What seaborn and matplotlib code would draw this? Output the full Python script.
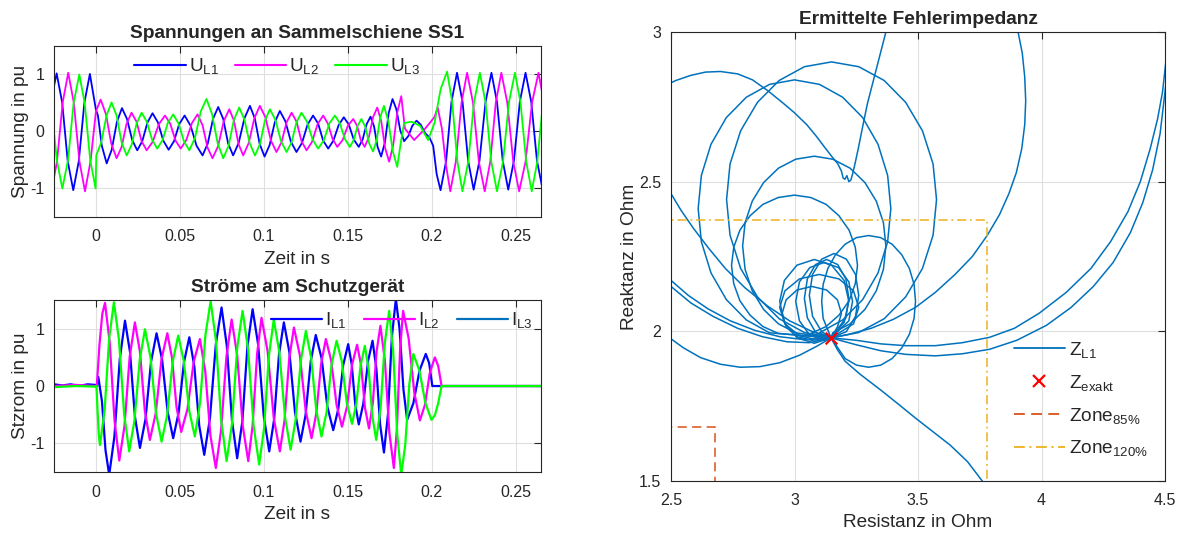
import numpy as np
import pandas as pd
import matplotlib
matplotlib.use("Agg")
import matplotlib.pyplot as plt
from matplotlib.lines import Line2D
import seaborn as sns

# ---------------- Spannungen an SS1: (Zeit in ms, Wert in pu) ----------------
u_l1 = [(-26.7, 0.55), (-23.4, 1.02), (-20.1, 0.51), (-16.8, -0.52), (-13.5, -1.03), (-10.2, -0.52),
        (-6.9, 0.50), (-3.6, 1.01), (0.0, 0.38), (1.2, 0.28), (3.5, -0.25), (6.4, -0.56), (9.4, -0.32),
        (12.5, 0.17), (15.5, 0.41), (18.5, 0.22), (21.6, -0.15), (24.6, -0.33), (27.6, -0.17),
        (30.7, 0.16), (33.7, 0.32), (36.9, 0.16), (40.1, -0.16), (43.3, -0.32), (46.5, -0.17),
        (49.6, 0.13), (52.8, 0.28), (56.4, 0.10), (59.9, -0.25), (63.5, -0.42), (66.6, -0.21),
        (69.7, 0.22), (72.8, 0.43), (75.8, 0.22), (78.7, -0.21), (81.7, -0.42), (85.0, -0.20),
        (88.4, 0.23), (91.7, 0.45), (94.6, 0.23), (97.5, -0.22), (100.4, -0.44), (103.4, -0.24),
        (106.5, 0.16), (109.5, 0.36), (112.8, 0.18), (116.1, -0.18), (119.4, -0.36), (122.7, -0.20),
        (126.0, 0.12), (129.3, 0.28), (132.3, 0.14), (135.3, -0.16), (138.3, -0.30), (141.4, -0.16),
        (144.5, 0.11), (147.6, 0.25), (150.6, 0.12), (153.5, -0.14), (156.5, -0.27), (158.8, -0.14),
        (161.2, 0.13), (163.5, 0.26), (165.6, 0.09), (167.7, -0.27), (169.8, -0.44), (172.1, -0.19),
        (174.3, 0.32), (176.6, 0.57), (178.9, 0.39), (181.2, 0.02), (183.5, -0.17), (186.0, -0.08),
        (188.4, 0.10), (190.9, 0.19), (193.4, 0.12), (196.0, -0.03), (198.5, -0.10), (200.8, -0.25),
        (202.9, -0.75), (205.2, -1.03), (208.5, -0.52), (211.7, 0.52), (215.0, 1.03), (218.3, 0.52),
        (221.6, -0.51), (224.9, -1.02), (228.4, -0.51), (232.0, 0.52), (235.5, 1.03), (238.8, 0.52),
        (242.2, -0.51), (245.5, -1.02), (248.9, -0.51), (252.4, 0.52), (255.8, 1.03), (259.2, 0.52),
        (262.6, -0.51), (266.0, -1.02)]

u_l2 = [(-26.5, -1.05), (-23.2, -0.53), (-19.8, 0.51), (-16.5, 1.03), (-13.2, 0.51), (-9.8, -0.53),
        (-6.5, -1.05), (-3.2, -0.52), (0.0, 0.35), (2.8, 0.56), (6.0, 0.30), (9.1, -0.21),
        (12.3, -0.47), (15.3, -0.27), (18.2, 0.13), (21.2, 0.33), (24.2, 0.17), (27.2, -0.17),
        (30.2, -0.33), (33.8, -0.18), (37.5, 0.13), (41.1, 0.28), (44.2, 0.14), (47.4, -0.16),
        (50.5, -0.30), (53.8, -0.15), (57.2, 0.15), (60.5, 0.30), (63.5, 0.11), (66.4, -0.28),
        (69.4, -0.47), (72.7, -0.26), (76.1, 0.18), (79.4, 0.39), (82.2, 0.19), (84.9, -0.22),
        (87.7, -0.42), (91.0, -0.20), (94.3, 0.23), (97.6, 0.45), (100.9, 0.25), (104.2, -0.16),
        (107.5, -0.36), (110.5, -0.19), (113.5, 0.16), (116.5, 0.33), (119.5, 0.17), (122.4, -0.17),
        (125.4, -0.33), (128.7, -0.18), (132.0, 0.13), (135.3, 0.28), (138.1, 0.14), (140.9, -0.13),
        (143.7, -0.27), (146.9, -0.15), (150.0, 0.10), (153.2, 0.22), (155.5, 0.10), (157.7, -0.15),
        (160.0, -0.27), (162.5, -0.10), (165.0, 0.25), (167.5, 0.42), (169.9, 0.18), (172.2, -0.29),
        (174.6, -0.53), (177.0, -0.24), (179.4, 0.33), (181.8, 0.62), (184.0, 0.05), (189.5, -0.15),
        (196.0, 0.05), (201.5, 0.25), (203.5, 0.42), (206.0, 0.05), (208.5, -0.60), (211.0, -1.05),
        (214.3, -0.53), (217.7, 0.51), (221.0, 1.03), (224.5, 0.51), (228.0, -0.53), (231.5, -1.05),
        (234.8, -0.53), (238.1, 0.51), (241.4, 1.03), (244.9, 0.51), (248.5, -0.53), (252.0, -1.05),
        (255.8, -0.53), (259.7, 0.51), (263.5, 1.03), (266.8, 0.51)]

u_l3 = [(-26.7, 0.50), (-23.3, -0.50), (-20.0, -1.00), (-16.6, -0.50), (-13.3, 0.50), (-9.9, 1.00),
        (-6.7, 0.50), (-3.4, -0.50), (-0.2, -1.00), (0.2, -0.42), (3.2, -0.19), (6.3, 0.28),
        (9.3, 0.51), (12.3, 0.28), (15.3, -0.19), (18.3, -0.42), (21.3, -0.23), (24.2, 0.14),
        (27.2, 0.33), (30.3, 0.17), (33.4, -0.14), (36.5, -0.30), (39.7, -0.15), (42.8, 0.15),
        (46.0, 0.30), (49.2, 0.14), (52.4, -0.17), (55.6, -0.33), (59.0, -0.11), (62.4, 0.35),
        (65.8, 0.57), (69.1, 0.31), (72.5, -0.21), (75.8, -0.47), (79.0, -0.25), (82.1, 0.20),
        (85.3, 0.42), (88.4, 0.21), (91.6, -0.21), (94.7, -0.42), (97.7, -0.22), (100.6, 0.19),
        (103.6, 0.39), (106.9, 0.20), (110.2, -0.17), (113.5, -0.36), (116.5, -0.19), (119.4, 0.16),
        (122.4, 0.33), (125.7, 0.17), (129.0, -0.14), (132.3, -0.30), (135.6, -0.16), (139.0, 0.14),
        (142.3, 0.28), (145.3, 0.14), (148.2, -0.13), (151.2, -0.27), (153.5, -0.15), (155.8, 0.10),
        (158.1, 0.22), (160.4, 0.08), (162.7, -0.21), (165.0, -0.35), (167.2, -0.15), (169.3, 0.25),
        (171.5, 0.45), (174.1, 0.18), (176.8, -0.35), (179.4, -0.62), (181.5, -0.20), (183.5, 0.15),
        (188.0, 0.17), (193.0, 0.10), (197.8, -0.15), (201.6, 0.15), (205.3, 0.75), (209.1, 1.05),
        (212.1, 0.52), (215.2, -0.52), (218.2, -1.05), (221.7, -0.53), (225.1, 0.51), (228.6, 1.03),
        (232.0, 0.51), (235.4, -0.53), (238.8, -1.05), (242.4, -0.53), (245.9, 0.51), (249.5, 1.03),
        (252.8, 0.51), (256.2, -0.53), (259.5, -1.05), (262.8, -0.53), (266.2, 0.51)]

# ---------------- Stroeme am Schutzgeraet: (Zeit in ms, Wert in pu) ----------------
i_l1 = [(-25, 0.03), (-20, 0.01), (-15, 0.03), (-10, 0.00), (-5, 0.03), (-0.5, 0.02), (0.5, 0.00),
        (1.4, 0.16), (3.6, -0.27), (5.7, -1.12), (7.9, -1.55), (11.0, -0.88), (14.2, 0.47),
        (17.3, 1.14), (20.3, 0.59), (23.2, -0.53), (26.2, -1.08), (29.5, -0.58), (32.8, 0.42),
        (36.1, 0.92), (39.4, 0.46), (42.7, -0.45), (46.0, -0.91), (49.2, -0.47), (52.4, 0.41),
        (55.6, 0.85), (58.6, 0.34), (61.5, -0.69), (64.5, -1.20), (67.9, -0.56), (71.4, 0.73),
        (74.8, 1.37), (77.9, 0.71), (81.0, -0.60), (84.1, -1.26), (87.2, -0.61), (90.2, 0.69),
        (93.3, 1.34), (96.6, 0.72), (99.9, -0.52), (103.2, -1.14), (106.1, -0.58), (109.0, 0.55),
        (111.9, 1.11), (115.2, 0.59), (118.5, -0.45), (121.8, -0.97), (124.8, -0.51), (127.9, 0.43),
        (130.9, 0.89), (134.4, 0.48), (137.8, -0.36), (141.3, -0.77), (144.3, -0.40), (147.2, 0.36),
        (150.2, 0.73), (152.3, 0.38), (154.4, -0.32), (156.5, -0.67), (159.2, -0.31), (162.0, 0.43),
        (164.7, 0.79), (167.0, 0.30), (169.2, -0.67), (171.5, -1.16), (173.9, -0.49), (176.2, 0.85),
        (178.6, 1.52), (180.8, 0.99), (183.1, -0.06), (185.3, -0.59), (189.0, -0.30), (192.7, 0.27),
        (196.4, 0.56), (198.4, 0.40), (200.3, 0.00), (265.0, 0.00)]

i_l2 = [(-25, 0.00), (-12, 0.02), (-0.5, 0.00), (0.5, 0.00), (2.1, 0.72), (3.8, 1.26), (5.4, 1.45),
        (8.2, 0.76), (11.1, -0.61), (13.9, -1.30), (17.0, -0.70), (20.1, 0.51), (23.2, 1.11),
        (26.2, 0.60), (29.1, -0.43), (32.1, -0.94), (35.6, -0.48), (39.0, 0.46), (42.5, 0.92),
        (45.3, 0.49), (48.0, -0.37), (50.8, -0.80), (54.5, -0.40), (58.2, 0.42), (61.9, 0.82),
        (65.1, 0.26), (68.2, -0.87), (71.4, -1.43), (74.5, -0.78), (77.7, 0.51), (80.8, 1.16),
        (84.1, 0.54), (87.4, -0.69), (90.7, -1.31), (93.3, -0.69), (96.0, 0.57), (98.6, 1.19),
        (102.2, 0.61), (105.9, -0.56), (109.5, -1.14), (112.3, -0.60), (115.1, 0.48), (117.9, 1.02),
        (121.4, 0.54), (124.9, -0.43), (128.4, -0.91), (131.2, -0.48), (134.1, 0.39), (136.9, 0.82),
        (140.1, 0.44), (143.3, -0.33), (146.5, -0.71), (149.5, -0.36), (152.5, 0.37), (155.5, 0.72),
        (157.9, 0.36), (160.2, -0.38), (162.6, -0.74), (164.9, -0.29), (167.1, 0.60), (169.4, 1.05),
        (172.1, 0.43), (174.7, -0.81), (177.4, -1.43), (179.2, -0.75), (181.1, 0.63), (182.9, 1.31),
        (186.2, 0.83), (189.6, -0.12), (192.9, -0.60), (195.9, -0.33), (198.8, 0.23), (201.8, 0.50),
        (203.8, 0.35), (205.8, 0.00), (265.0, 0.00)]

i_l3 = [(-25, -0.02), (-12, 0.00), (-0.5, -0.01), (0.3, 0.00), (1.0, -0.45), (1.7, -0.85), (2.4, -1.03),
        (5.2, -0.41), (7.9, 0.84), (10.7, 1.46), (13.7, 0.81), (16.8, -0.49), (19.8, -1.14),
        (22.9, -0.61), (26.1, 0.46), (29.2, 0.99), (32.5, 0.50), (35.8, -0.48), (39.1, -0.97),
        (42.4, -0.51), (45.7, 0.42), (49.0, 0.88), (52.3, 0.44), (55.6, -0.44), (58.9, -0.88),
        (62.0, -0.29), (65.2, 0.89), (68.3, 1.48), (71.5, 0.78), (74.6, -0.61), (77.8, -1.31),
        (81.0, -0.66), (84.1, 0.66), (87.3, 1.31), (90.6, 0.64), (93.9, -0.70), (97.2, -1.37),
        (100.1, -0.74), (103.0, 0.53), (105.9, 1.16), (109.2, 0.59), (112.6, -0.54), (115.9, -1.11),
        (118.9, -0.59), (122.0, 0.44), (125.0, 0.96), (128.1, 0.50), (131.2, -0.42), (134.3, -0.88),
        (137.3, -0.46), (140.3, 0.37), (143.3, 0.79), (146.4, 0.43), (149.4, -0.30), (152.5, -0.66),
        (155.0, -0.32), (157.6, 0.36), (160.1, 0.70), (162.4, 0.29), (164.6, -0.53), (166.9, -0.94),
        (169.5, -0.38), (172.0, 0.75), (174.6, 1.31), (177.0, 0.60), (179.4, -0.84), (181.8, -1.55),
        (184.2, -1.02), (186.6, 0.03), (189.0, 0.56), (192.6, 0.27), (196.2, -0.30), (199.8, -0.59),
        (201.8, -0.51), (203.8, -0.30), (205.8, 0.00), (265.0, 0.00)]

# ---------------- Impedanz-Ortskurve: (R, X) in Ohm ----------------
z_exakt = (3.148, 1.978)
C = z_exakt

exit_bottom = [C, (3.175, 1.937), (3.205, 1.90), (3.265, 1.857), (3.355, 1.80), (3.42, 1.757),
               (3.49, 1.71), (3.56, 1.665), (3.63, 1.62), (3.70, 1.565), (3.76, 1.50), (3.80, 1.46)]
arc_right_1 = [C, (3.25, 1.955), (3.35, 1.935), (3.45, 1.923), (3.57, 1.918), (3.68, 1.925),
               (3.79, 1.94), (3.90, 1.97), (4.02, 2.02), (4.12, 2.08), (4.21, 2.15), (4.29, 2.23),
               (4.36, 2.33), (4.41, 2.43), (4.45, 2.54), (4.48, 2.66), (4.50, 2.80), (4.52, 2.95)]
arc_right_2 = [C, (3.25, 1.97), (3.35, 1.958), (3.45, 1.952), (3.57, 1.952), (3.68, 1.962),
               (3.79, 1.98), (3.89, 2.01), (3.99, 2.06), (4.10, 2.13), (4.20, 2.21), (4.28, 2.30),
               (4.35, 2.40), (4.40, 2.50), (4.44, 2.61), (4.47, 2.71), (4.49, 2.80), (4.51, 2.95)]
arc_top_right = [(3.89, 3.10), (3.905, 3.0), (3.922, 2.93), (3.932, 2.85), (3.936, 2.77), (3.932, 2.69),
                 (3.92, 2.61), (3.898, 2.53), (3.868, 2.46), (3.83, 2.39), (3.78, 2.32), (3.72, 2.25),
                 (3.65, 2.19), (3.57, 2.13), (3.49, 2.08), (3.40, 2.04), (3.31, 2.01), (3.22, 1.99), C]
arc_wiggle = [(3.40, 3.10), (3.37, 3.0), (3.345, 2.92), (3.32, 2.84), (3.295, 2.76), (3.275, 2.68),
              (3.258, 2.61), (3.245, 2.56), (3.235, 2.525), (3.228, 2.505), (3.22, 2.50), (3.212, 2.52),
              (3.204, 2.508), (3.197, 2.512), (3.19, 2.535), (3.175, 2.56), (3.15, 2.585), (3.12, 2.617),
              (3.09, 2.65), (3.05, 2.69), (3.0, 2.73), (2.95, 2.765), (2.89, 2.805), (2.83, 2.84),
              (2.77, 2.86), (2.70, 2.868), (2.64, 2.866), (2.58, 2.855), (2.52, 2.838), (2.46, 2.815)]
loop_a = [C, (3.260, 1.996), (3.363, 2.042), (3.450, 2.115), (3.518, 2.210), (3.561, 2.321),
          (3.575, 2.440), (3.561, 2.559), (3.518, 2.670), (3.450, 2.765), (3.363, 2.838),
          (3.260, 2.884), (3.150, 2.900), (3.040, 2.884), (2.938, 2.838), (2.850, 2.765),
          (2.782, 2.670), (2.739, 2.559), (2.725, 2.440), (2.739, 2.321), (2.782, 2.210),
          (2.850, 2.115), (2.938, 2.042), (3.040, 1.996), C]
loop_b = [C, (3.101, 1.995), (3.195, 2.038), (3.276, 2.106), (3.338, 2.195), (3.377, 2.299),
          (3.390, 2.410), (3.377, 2.521), (3.338, 2.625), (3.276, 2.714), (3.195, 2.782),
          (3.101, 2.825), (3.000, 2.840), (2.899, 2.825), (2.805, 2.782), (2.724, 2.714),
          (2.662, 2.625), (2.623, 2.521), (2.610, 2.410), (2.623, 2.299), (2.662, 2.195),
          (2.724, 2.106), (2.805, 2.038), (2.899, 1.995), C]
loop_c = [C, (3.155, 1.995), (3.225, 2.025), (3.285, 2.073), (3.331, 2.135), (3.360, 2.207),
          (3.370, 2.285), (3.360, 2.363), (3.331, 2.435), (3.285, 2.497), (3.225, 2.545),
          (3.155, 2.575), (3.080, 2.585), (3.005, 2.575), (2.935, 2.545), (2.875, 2.497),
          (2.829, 2.435), (2.800, 2.363), (2.790, 2.285), (2.800, 2.207), (2.829, 2.135),
          (2.875, 2.073), (2.935, 2.025), (3.005, 1.995), C]
loop_d = [C, (3.066, 1.993), (3.128, 2.016), (3.180, 2.054), (3.221, 2.102), (3.246, 2.159),
          (3.255, 2.220), (3.246, 2.281), (3.221, 2.338), (3.180, 2.386), (3.128, 2.424),
          (3.066, 2.447), (3.000, 2.455), (2.934, 2.447), (2.872, 2.424), (2.820, 2.386),
          (2.779, 2.338), (2.754, 2.281), (2.745, 2.220), (2.754, 2.159), (2.779, 2.102),
          (2.820, 2.054), (2.872, 2.016), (2.934, 1.993), C]
loop_e = [C, (3.116, 2.043), (3.110, 2.100), (3.116, 2.157), (3.135, 2.210), (3.166, 2.256),
          (3.205, 2.291), (3.251, 2.313), (3.300, 2.320), (3.349, 2.313), (3.395, 2.291),
          (3.434, 2.256), (3.465, 2.210), (3.484, 2.157), (3.490, 2.100), (3.484, 2.043),
          (3.465, 1.990), (3.434, 1.944), (3.395, 1.909), (3.349, 1.887), (3.300, 1.880),
          (3.251, 1.887), (3.205, 1.909), C]
loop_s1 = [C, (3.201, 2.03), (3.22, 2.10), (3.201, 2.17), (3.15, 2.221), (3.08, 2.24), (3.01, 2.221),
           (2.959, 2.17), (2.94, 2.10), (2.959, 2.03), (3.01, 1.979), (3.08, 1.96), C]
loop_s2 = [C, (3.22, 2.035), (3.235, 2.10), (3.22, 2.165), (3.178, 2.213), (3.12, 2.23), (3.062, 2.213),
           (3.02, 2.165), (3.005, 2.10), (3.02, 2.035), (3.062, 1.987), (3.12, 1.97), C]
loop_s3 = [C, (3.239, 2.025), (3.26, 2.08), (3.239, 2.135), (3.18, 2.175), (3.10, 2.19), (3.02, 2.175),
           (2.961, 2.135), (2.94, 2.08), (2.961, 2.025), (3.02, 1.985), (3.10, 1.97), C]
loop_s4 = [C, (3.208, 2.045), (3.22, 2.11), (3.208, 2.175), (3.175, 2.223), (3.13, 2.24), (3.085, 2.223),
           (3.052, 2.175), (3.04, 2.11), (3.052, 2.045), (3.085, 1.997), (3.13, 1.98), C]
loop_s5 = [C, (3.174, 2.015), (3.19, 2.06), (3.174, 2.105), (3.13, 2.138), (3.07, 2.15), (3.01, 2.138),
           (2.966, 2.105), (2.95, 2.06), (2.966, 2.015), (3.01, 1.982), (3.07, 1.97), C]
loop_s6 = [C, (3.21, 1.999), (3.247, 2.05), (3.26, 2.12), (3.247, 2.19), (3.21, 2.241), (3.16, 2.26),
           (3.11, 2.241), (3.073, 2.19), (3.06, 2.12), (3.073, 2.05), (3.11, 1.999), C]
left_1 = [(2.45, 2.00), (2.50, 1.975), (2.55, 1.945), (2.62, 1.912), (2.70, 1.89), (2.78, 1.88),
          (2.86, 1.882), (2.94, 1.895), (3.02, 1.92), (3.09, 1.95), C]
left_2 = [(2.45, 2.205), (2.50, 2.17), (2.57, 2.12), (2.65, 2.075), (2.74, 2.035), (2.84, 2.003),
          (2.94, 1.982), (3.04, 1.972), C]
left_3 = [(2.45, 2.185), (2.50, 2.15), (2.58, 2.095), (2.67, 2.05), (2.77, 2.01), (2.87, 1.982),
          (2.97, 1.965), (3.06, 1.962), C]
left_4 = [(2.47, 2.50), (2.50, 2.46), (2.54, 2.405), (2.59, 2.345), (2.65, 2.28), (2.72, 2.21),
          (2.80, 2.145), (2.89, 2.085), (2.98, 2.035), (3.07, 2.0), C]

zone85_r = [2.0, 2.678, 2.678]
zone85_x = [1.681, 1.681, 1.0]
zone120_r = [2.0, 3.78, 3.78]
zone120_x = [2.373, 2.373, 1.0]

BLUE, MAGENTA, GREEN = "#0000FF", "#FF00FF", "#00FF00"
MBLUE, MORANGE, MYELLOW = "#0072BD", "#D95319", "#EDB120"
GRID = "#DFDFDF"
INK = "#262626"
DASH85 = (0, (6, 3.5))
DASH120 = (0, (6, 2.5, 1.2, 2.5))


def style_axes(ax):
    ax.grid(True, color=GRID, lw=0.8)
    ax.set_axisbelow(True)
    for s in ax.spines.values():
        s.set_color(INK)
        s.set_linewidth(0.8)
        s.set_visible(True)
    ax.tick_params(direction="in", top=True, right=True, length=5, width=0.8,
                   labelsize=11.5, colors=INK)
    ax.tick_params(axis="x", pad=9)
    ax.tick_params(axis="y", pad=7)


def wave(ax, pts, color, lw):
    df = pd.DataFrame(pts, columns=["t_ms", "v"])
    df["t"] = df["t_ms"] / 1000.0
    sns.lineplot(data=df, x="t", y="v", color=color, lw=lw, ax=ax, sort=False, estimator=None)


def time_axes(ax, ylabel, title):
    style_axes(ax)
    ax.set_xlim(-0.025, 0.265)
    ax.set_ylim(-1.5, 1.5)
    ax.set_xticks([0, 0.05, 0.1, 0.15, 0.2, 0.25], ["0", "0.05", "0.1", "0.15", "0.2", "0.25"])
    ax.set_yticks([-1, 0, 1], ["-1", "0", "1"])
    ax.set_xlabel("Zeit in s", fontsize=13.7, color=INK, labelpad=5)
    ax.set_ylabel(ylabel, fontsize=13.7, color=INK, labelpad=1)
    ax.set_title(title, fontsize=13.8, fontweight="bold", pad=6)


def main():
    sns.set_theme(style="white")
    plt.rcParams["font.family"] = ["Liberation Sans", "DejaVu Sans"]
    plt.rcParams["mathtext.fontset"] = "custom"
    plt.rcParams["mathtext.rm"] = "Liberation Sans"
    plt.rcParams["mathtext.it"] = "Liberation Sans:italic"

    fig = plt.figure(figsize=(11.83, 5.33), dpi=100)
    ax_u = fig.add_axes([0.0456, 0.5929, 0.4117, 0.3208])
    ax_i = fig.add_axes([0.0456, 0.1144, 0.4117, 0.3227])
    ax_z = fig.add_axes([0.5672, 0.0976, 0.4176, 0.8424])

    # Spannungen
    for pts, c in ((u_l1, BLUE), (u_l2, MAGENTA), (u_l3, GREEN)):
        wave(ax_u, pts, c, 1.3)
    time_axes(ax_u, "Spannung in pu", "Spannungen an Sammelschiene SS1")
    h_u = [Line2D([], [], color=c, lw=1.5) for c in (BLUE, MAGENTA, GREEN)]
    ax_u.legend(h_u, [r"U$_{\rm L1}$", r"U$_{\rm L2}$", r"U$_{\rm L3}$"], ncol=3, frameon=False,
                loc="upper center", bbox_to_anchor=(0.458, 1.04), fontsize=13.7,
                handlelength=2.7, handletextpad=0.15, columnspacing=0.85)

    # Stroeme
    for pts, c in ((i_l1, BLUE), (i_l2, MAGENTA), (i_l3, GREEN)):
        wave(ax_i, pts, c, 1.6)
    time_axes(ax_i, "Stzrom in pu", "Ströme am Schutzgerät")
    h_i = [Line2D([], [], color=c, lw=1.6) for c in (BLUE, MAGENTA, MBLUE)]
    ax_i.legend(h_i, [r"I$_{\rm L1}$", r"I$_{\rm L2}$", r"I$_{\rm L3}$"], ncol=3, frameon=False,
                loc="upper center", bbox_to_anchor=(0.714, 1.04), fontsize=13.7,
                handlelength=2.7, handletextpad=0.15, columnspacing=0.9)

    # Impedanz
    pieces = [exit_bottom, arc_right_1, arc_right_2, arc_top_right, arc_wiggle, loop_a, loop_b,
              loop_c, loop_d, loop_e, loop_s1, loop_s2, loop_s3, loop_s4, loop_s5, loop_s6,
              left_1, left_2, left_3, left_4]
    rows = []
    for k, piece in enumerate(pieces):
        for r, x in piece:
            rows.append({"seg": k, "R": r, "X": x})
    df_z = pd.DataFrame(rows)
    sns.lineplot(data=df_z, x="R", y="X", units="seg", estimator=None, sort=False,
                 color=MBLUE, lw=1.1, ax=ax_z)
    sns.lineplot(x=zone85_r, y=zone85_x, color=MORANGE, lw=1.1, ax=ax_z, sort=False,
                 estimator=None, linestyle=DASH85)
    sns.lineplot(x=zone120_r, y=zone120_x, color=MYELLOW, lw=1.1, ax=ax_z, sort=False,
                 estimator=None, linestyle=DASH120)
    sns.scatterplot(x=[z_exakt[0]], y=[z_exakt[1]], marker="x", color="#FF0000", s=70,
                    linewidth=1.6, ax=ax_z, zorder=5)
    style_axes(ax_z)
    ax_z.set_xlim(2.5, 4.5)
    ax_z.set_ylim(1.5, 3.0)
    ax_z.set_xticks([2.5, 3, 3.5, 4, 4.5], ["2.5", "3", "3.5", "4", "4.5"])
    ax_z.set_yticks([1.5, 2, 2.5, 3], ["1.5", "2", "2.5", "3"])
    ax_z.set_xlabel("Resistanz in Ohm", fontsize=13.7, color=INK, labelpad=4)
    ax_z.set_ylabel("Reaktanz in Ohm", fontsize=13.7, color=INK, labelpad=1)
    ax_z.set_title("Ermittelte Fehlerimpedanz", fontsize=13.8, fontweight="bold", pad=6)
    h_z = [Line2D([], [], color=MBLUE, lw=1.3),
           Line2D([], [], color="#FF0000", lw=0, marker="x", markersize=9, markeredgewidth=1.6),
           Line2D([], [], color=MORANGE, lw=1.3, linestyle=DASH85),
           Line2D([], [], color=MYELLOW, lw=1.3, linestyle=DASH120)]
    ax_z.legend(h_z, [r"Z$_{\rm L1}$", r"Z$_{\rm exakt}$", r"Zone$_{\rm 85\%}$", r"Zone$_{\rm 120\%}$"],
                frameon=False, loc="lower right", bbox_to_anchor=(1.0, 0.012), fontsize=13.7,
                handlelength=2.7, handletextpad=0.2, labelspacing=0.68)

    fig.savefig("out.png", dpi=100)


if __name__ == "__main__":
    main()
